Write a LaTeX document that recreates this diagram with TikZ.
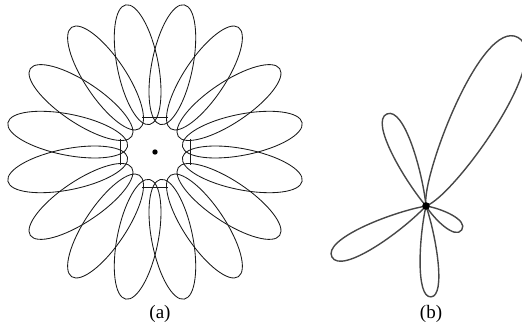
\documentclass[tikz,border=0pt]{standalone}
\usepackage{fontspec}
\setmainfont{Liberation Serif}
\begin{document}
\begin{tikzpicture}[x=1pt,y=1pt,
  petal/.style={draw=black!90, line width=0.85pt},
  lobe/.style={draw=black!72, line width=1.4pt},
  lbl/.style={font=\fontsize{19}{22}\selectfont, inner sep=0pt}]
\useasboundingbox (0,0) rectangle (522,323);
% ---- (a) flower
\coordinate (A) at (155,171);
\begin{scope}[shift={(A)}]
\foreach \k in {0,...,15}{
  \pgfmathsetmacro\ang{11.25+22.5*\k}
  \draw[petal, rotate=\ang] (89pt,0) ellipse [x radius=61pt, y radius=20.5pt];
}
\foreach \r in {0,90,180,270}{
  \draw[petal, rotate=\r] (35,-13) -- (35,13);
}
\end{scope}
\fill (A) circle (2.7pt);
\node[lbl] (la) at (160,9) {(a)};
% ---- (b) lobes
\coordinate (B) at (426,117);
\begin{scope}[shift={(B)}]
\draw[lobe, rotate=61.4] (0,0) .. controls (22,18) and (192,42) .. (192,0) .. controls (192,-42) and (22,-20) .. (0,0);
\draw[lobe, rotate=113] (0,0) .. controls (32,10) and (100,19) .. (100,0) .. controls (100,-19) and (32,-10) .. (0,0);
\draw[lobe, rotate=208.5] (0,0) .. controls (35,11.5) and (107,20) .. (107,0) .. controls (107,-20) and (35,-11.5) .. (0,0);
\draw[lobe, rotate=-86.9] (0,0) .. controls (30,8.5) and (91,15.5) .. (91,0) .. controls (91,-15.5) and (30,-8.5) .. (0,0);
\draw[lobe, rotate=-33.7] (0,0) .. controls (14,6.5) and (43,12) .. (43,0) .. controls (43,-12) and (14,-6.5) .. (0,0);
\end{scope}
\fill[black] (B) circle (3.8pt);
\node[lbl] (lb) at (431,9) {(b)};
\end{tikzpicture}
\end{document}
